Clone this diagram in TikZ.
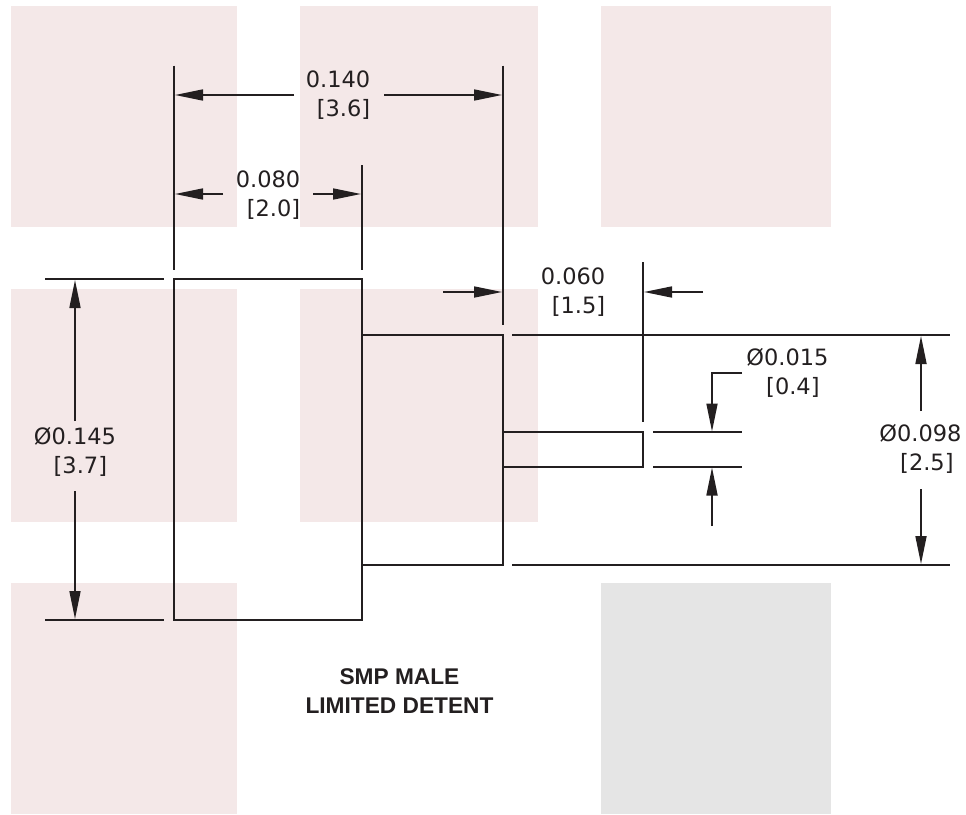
\documentclass[tikz,border=0pt]{standalone}
\usepackage{fontspec}
\setmainfont{DejaVu Sans}
\newfontfamily\titlefont{Liberation Sans}
\usetikzlibrary{arrows.meta}
\definecolor{ink}{HTML}{231F20}
\definecolor{pinkpad}{HTML}{F4E8E8}
\definecolor{graypad}{HTML}{E5E5E5}
\tikzset{
  x=1pt,y=-1pt,
  pad/.style={fill=pinkpad,draw=none},
  padgray/.style={fill=graypad,draw=none},
  outline/.style={draw=ink,line width=1.8pt,line join=miter},
  extline/.style={draw=ink,line width=1.8pt},
  dimline/.style={draw=ink,line width=1.7pt,-{Triangle[length=28pt,width=11pt,color=ink]},shorten >=0pt},
  dimtext/.style={text=ink,inner sep=0pt,outer sep=0pt,font=\fontsize{22.5}{29}\selectfont,align=right,anchor=center},
  titletext/.style={text=ink,inner sep=0pt,font=\titlefont\bfseries\fontsize{22.7}{28.5}\selectfont,align=center},
}
\begin{document}
\begin{tikzpicture}
\useasboundingbox (0,0) rectangle (966,814);
% pads
\fill[pad] (11,6) rectangle (237,227);
\fill[pad] (300,6) rectangle (538,227);
\fill[pad] (601,6) rectangle (831,227);
\fill[pad] (11,289) rectangle (237,522);
\fill[pad] (300,289) rectangle (538,522);
\fill[pad] (11,583) rectangle (237,814);
\fill[padgray] (601,583) rectangle (831,814);
% part outline
\coordinate (bodyTL) at (174.3,279.2);
\coordinate (bodyBR) at (362,619.8);
\coordinate (neckTL) at (362,335);
\coordinate (neckBR) at (502.7,564.7);
\coordinate (pinTL) at (502.7,432);
\coordinate (pinBR) at (643,466.7);
\draw[outline] (bodyTL) rectangle (bodyBR);
\draw[outline] (neckTL) rectangle (neckBR);
\draw[outline] (pinTL) rectangle (pinBR);
% extension lines
\coordinate (e1a) at (174.3,65.5); \coordinate (e1b) at (174.3,270);
\coordinate (e2a) at (362,165);    \coordinate (e2b) at (362,270);
\coordinate (e3a) at (502.7,65.5); \coordinate (e3b) at (502.7,325);
\coordinate (e4a) at (643,262);    \coordinate (e4b) at (643,422);
\coordinate (h1a) at (45,279.2);   \coordinate (h1b) at (164,279.2);
\coordinate (h2a) at (45,619.8);   \coordinate (h2b) at (164,619.8);
\coordinate (h3a) at (512,335);    \coordinate (h3b) at (950,335);
\coordinate (h4a) at (512,564.7);  \coordinate (h4b) at (950,564.7);
\coordinate (h5a) at (653,432);    \coordinate (h5b) at (742,432);
\coordinate (h6a) at (653,466.7);  \coordinate (h6b) at (742,466.7);
\foreach \a/\b in {e1a/e1b,e2a/e2b,e3a/e3b,e4a/e4b,h1a/h1b,h2a/h2b,h3a/h3b,h4a/h4b,h5a/h5b,h6a/h6b}
  \draw[extline] (\a) -- (\b);
% labels
\node[dimtext] (d140) at (338,95.5) {0.140\\{[3.6]}};
\node[dimtext] (d080) at (268,195) {0.080\\{[2.0]}};
\node[dimtext] (d060) at (573,292) {0.060\\{[1.5]}};
\node[dimtext] (d015) at (787.5,373) {Ø0.015\\{[0.4]}\hspace*{9pt}};
\node[dimtext] (d145) at (75,452) {Ø0.145\\{[3.7]}\hspace*{9pt}};
\node[dimtext] (d098) at (920.5,449) {Ø0.098\\{[2.5]}\hspace*{8pt}};
\node[titletext] (title) at (399.5,691) {SMP MALE\\LIMITED DETENT};
% dimension arrows
\coordinate (a1s) at (294,95);  \coordinate (a1e) at (175,95);
\coordinate (a2s) at (384,95);  \coordinate (a2e) at (502,95);
\coordinate (a3s) at (223,194); \coordinate (a3e) at (175,194);
\coordinate (a4s) at (313,194); \coordinate (a4e) at (361,194);
\coordinate (a5s) at (443,292); \coordinate (a5e) at (502,292);
\coordinate (a6s) at (703,292); \coordinate (a6e) at (644,292);
\coordinate (a7s) at (75,421);  \coordinate (a7e) at (75,280);
\coordinate (a8s) at (75,491);  \coordinate (a8e) at (75,619);
\coordinate (a9s) at (921,411); \coordinate (a9e) at (921,336);
\coordinate (a10s) at (921,489);\coordinate (a10e) at (921,564);
\coordinate (a11s) at (712,526);\coordinate (a11e) at (712,467.5);
\foreach \a/\b in {a1s/a1e,a2s/a2e,a3s/a3e,a4s/a4e,a5s/a5e,a6s/a6e,a7s/a7e,a8s/a8e,a9s/a9e,a10s/a10e,a11s/a11e}
  \draw[dimline] (\a) -- (\b);
\coordinate (l1) at (742,373); \coordinate (l2) at (712,373); \coordinate (l3) at (712,431.5);
\draw[dimline] (l1) -- (l2) -- (l3);
\end{tikzpicture}
\end{document}
